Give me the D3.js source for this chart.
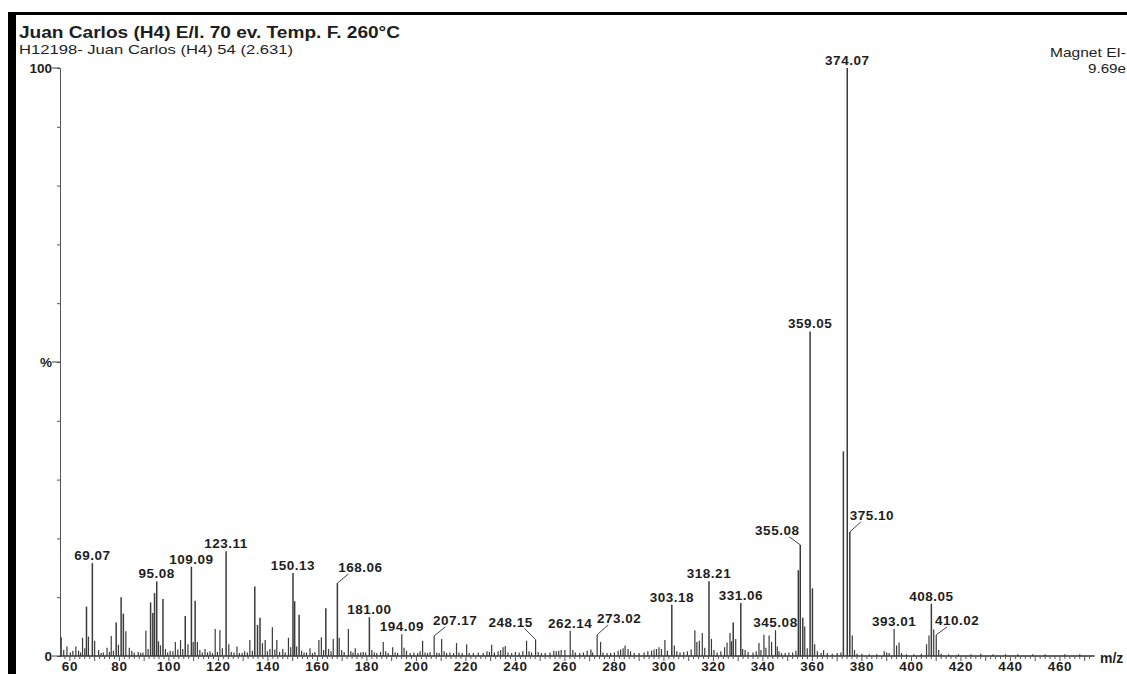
<!DOCTYPE html>
<html>
<head>
<meta charset="utf-8">
<script src="https://cdn.jsdelivr.net/npm/d3@7"></script>
<style>
  html, body { margin: 0; padding: 0; background: #ffffff; }
  svg { display: block; }
  text { font-family: "Liberation Sans", Arial, sans-serif; fill: #1e1e1e; }
</style>
</head>
<body>
<svg id="chart" width="1127" height="674"></svg>
<script>
// ---------- data ----------
const title = "Juan Carlos (H4) E/I. 70 ev. Temp. F. 260°C";
const subtitle = "H12198- Juan Carlos (H4) 54 (2.631)";
const instrument = ["Magnet EI-", "9.69e"];
const xTickLabels = [60, 80, 100, 120, 140, 160, 180, 200, 220, 240, 260, 280, 300, 320, 340, 360, 380, 400, 420, 440, 460];
const yTickLabels = [{v: 100, t: "100"}, {v: 50, t: "%"}, {v: 0, t: "0"}];

// m/z values and relative intensities (%)
const mz = [56.5,57.5,58.8,60.2,61.2,62.4,63.5,64.3,65.1,66.0,66.7,67.5,69.07,70.0,71.6,72.6,73.5,75.0,76.0,76.7,77.6,78.7,79.6,80.7,81.6,82.6,84.0,85.0,86.0,87.6,88.6,89.5,90.7,91.6,92.6,93.5,94.2,95.08,95.8,96.6,97.6,98.6,99.5,100.5,101.6,102.6,103.6,104.7,105.6,106.6,107.7,109.09,109.8,110.6,111.5,112.5,113.5,114.6,115.6,116.6,117.6,118.7,119.6,120.6,121.6,123.11,124.2,125.2,126.3,127.5,128.5,129.6,130.6,131.7,132.7,133.7,134.7,135.8,136.8,137.8,138.9,139.8,140.8,141.8,142.8,143.6,144.7,146.0,147.0,148.3,149.2,150.13,150.8,151.6,152.6,153.6,154.6,155.6,157.0,158.0,159.0,160.6,161.6,162.5,163.4,164.5,165.5,166.4,168.06,168.8,169.8,170.8,172.5,173.5,174.4,175.3,176.4,177.5,178.5,179.5,181.0,182.0,183.0,184.0,185.5,186.6,187.6,188.6,190.4,191.4,192.4,194.09,195.0,196.0,197.5,199.0,200.5,201.5,202.5,203.5,204.5,205.5,207.17,208.2,209.2,210.2,211.2,212.2,213.5,215.0,216.2,217.2,218.5,220.3,221.3,223.0,225.0,227.0,228.5,229.5,230.4,231.5,233.0,234.0,235.0,235.9,237.0,238.5,240.0,241.5,243.0,244.5,245.5,246.5,248.15,249.2,250.5,252.0,254.0,255.5,256.5,257.5,258.5,260.0,262.14,263.2,264.2,266.0,267.5,269.0,270.5,271.2,273.02,274.4,275.4,277.0,278.5,280.0,281.5,282.5,283.5,284.3,285.5,286.5,288.0,290.0,292.0,293.5,295.0,296.0,297.0,298.0,299.0,300.4,301.4,303.18,304.2,305.2,306.5,308.0,309.5,311.0,312.5,313.3,314.3,315.5,316.5,318.21,319.2,320.2,321.5,323.0,324.5,325.5,326.7,327.3,328.0,329.0,331.06,331.8,332.8,334.0,336.0,337.3,338.4,339.2,340.4,341.2,342.5,343.5,345.08,345.8,346.5,347.5,349.0,350.5,352.0,353.3,354.3,355.08,356.1,356.9,357.9,359.05,360.0,360.9,362.0,363.5,364.5,366.0,368.0,370.0,371.5,372.5,374.07,375.10,376.1,377.0,378.0,380.0,383.0,386.0,389.0,390.0,391.0,393.01,394.0,395.0,396.0,398.0,401.0,404.0,406.1,407.1,408.05,409.0,410.02,411.0,412.0,415,419,424,428,433,438,443,449,454,462,468];
const intensity = [3.2,1.0,1.6,0.6,0.9,1.6,0.9,0.6,3.1,1.3,8.4,3.3,15.8,2.6,1.0,0.5,0.6,1.4,0.7,3.4,0.9,5.7,1.9,10.0,7.2,4.2,1.4,0.9,0.6,0.7,0.5,0.6,4.3,1.2,9.1,7.3,10.7,12.7,2.5,1.8,9.7,1.2,0.6,0.9,0.8,2.4,1.1,2.7,1.2,6.8,2.0,15.2,2.4,9.4,2.4,1.0,0.6,1.2,0.6,0.8,0.5,4.6,0.7,4.4,1.3,17.8,2.0,0.7,0.6,1.6,0.5,0.5,0.8,0.6,2.7,0.9,11.8,5.3,6.5,2.2,2.7,0.8,1.2,4.9,1.1,2.7,0.7,1.2,0.6,3.1,1.5,14.1,9.3,1.6,7.0,0.9,0.6,0.6,1.3,0.5,0.7,2.7,3.2,1.0,8.1,1.2,0.8,2.9,12.4,3.1,1.0,0.7,4.6,0.8,0.6,1.3,0.5,0.6,0.7,0.6,6.6,1.0,0.6,0.5,0.7,2.4,0.8,0.5,1.5,0.6,0.5,3.7,1.4,0.9,0.5,0.6,0.5,0.8,2.6,0.6,0.5,0.7,3.4,0.6,0.5,2.9,0.8,0.5,0.6,0.5,2.2,0.6,0.5,2.0,0.5,0.5,0.6,0.5,0.8,0.7,1.9,0.6,0.8,1.0,1.5,1.7,0.6,0.5,0.7,0.6,0.8,2.6,0.8,0.6,2.8,0.7,0.5,0.5,0.6,0.9,0.8,0.9,1.0,1.0,4.3,1.0,0.6,0.5,0.6,0.9,1.1,0.6,3.6,2.4,0.6,0.5,0.5,0.6,0.9,1.1,1.3,1.8,1.2,0.8,0.5,0.5,0.6,0.8,0.9,1.1,1.2,1.5,1.2,2.7,0.9,8.7,1.8,0.8,0.6,0.7,0.8,1.1,4.4,2.4,2.6,3.9,1.4,12.7,2.9,1.0,0.6,0.8,1.5,2.3,3.9,2.5,5.7,2.9,9.0,1.2,1.0,0.7,0.6,0.8,2.2,1.0,3.6,1.4,3.5,2.4,4.4,1.6,0.8,0.5,0.5,0.6,0.6,0.9,14.6,18.9,6.5,5.0,1.3,55.2,11.5,2.0,0.8,0.5,1.0,0.5,0.4,0.5,0.6,34.8,100,21.1,3.5,1.0,0.4,0.4,0.3,0.3,0.8,0.6,0.5,4.6,1.8,2.3,0.5,0.3,0.3,0.4,2.0,3.5,8.9,4.5,3.6,1.0,0.4,0.3,0.3,0.3,0.4,0.3,0.3,0.3,0.3,0.3,0.3,0.3];

// labelled peaks
const peakLabels = [69.07, 95.08, 109.09, 123.11, 150.13, 168.06, 181.00, 194.09, 207.17, 248.15, 262.14, 273.02, 303.18, 318.21, 331.06, 345.08, 355.08, 359.05, 374.07, 375.10, 393.01, 408.05, 410.02];

// ---------- layout (not data) ----------
// labels drawn with a leader line: [dx, dy] of label baseline relative to peak top
const leaderOffsets = {
  "168.06": [23, -11], "207.17": [21, -11], "248.15": [-25, -13], "273.02": [22, -12],
  "355.08": [-23, -10], "375.10": [22, -12], "410.02": [21, -10]
};

const svg = d3.select("#chart");
const W = 1127, H = 674;

const x = d3.scaleLinear().domain([56, 474]).range([60, 1094.6]);
const y = d3.scaleLinear().domain([0, 100]).range([656, 68]);

// scan border
svg.append("rect").attr("x", 8).attr("y", 12).attr("width", 8).attr("height", H - 12).attr("fill", "#000");
svg.append("rect").attr("x", 8).attr("y", 12).attr("width", W - 8).attr("height", 3).attr("fill", "#000");

// titles
svg.append("text").attr("x", 19).attr("y", 38).attr("font-size", 16).attr("font-weight", "bold")
  .attr("textLength", 381).attr("lengthAdjust", "spacingAndGlyphs").text(title);
svg.append("text").attr("x", 19).attr("y", 54).attr("font-size", 13.5)
  .attr("textLength", 274).attr("lengthAdjust", "spacingAndGlyphs").text(subtitle);
svg.append("text").attr("x", 1050).attr("y", 57).attr("font-size", 13.5)
  .attr("textLength", 76).attr("lengthAdjust", "spacingAndGlyphs").text(instrument[0]);
svg.append("text").attr("x", 1088).attr("y", 73).attr("font-size", 13.5)
  .attr("textLength", 38).attr("lengthAdjust", "spacingAndGlyphs").text(instrument[1]);

// y axis
const yAxisG = svg.append("g").attr("transform", `translate(${x(56)},0)`);
yAxisG.call(d3.axisLeft(y).tickValues(d3.range(0, 101, 10)).tickSize(3).tickFormat(""));
yAxisG.selectAll(".tick text").remove();
yAxisG.select(".domain").attr("stroke", "#555").attr("stroke-width", 1);
yAxisG.selectAll(".tick line").attr("stroke", "#555");
yTickLabels.forEach(d => {
  yAxisG.append("line").attr("x1", -8).attr("x2", 0).attr("y1", y(d.v)).attr("y2", y(d.v)).attr("stroke", "#444");
  yAxisG.append("text").attr("x", -8).attr("y", y(d.v) + 4.5).attr("text-anchor", "end")
    .attr("font-size", 13.5).attr("font-weight", "bold").text(d.t);
});

// x axis
const xAxisG = svg.append("g").attr("transform", `translate(0,${y(0)})`);
xAxisG.append("line").attr("x1", x(56)).attr("x2", x(474)).attr("y1", 0).attr("y2", 0).attr("stroke", "#333").attr("stroke-width", 1.3);
xAxisG.selectAll("line.minor").data(d3.range(58, 474, 2)).join("line")
  .attr("x1", d => x(d)).attr("x2", d => x(d)).attr("y1", 0).attr("y2", d => d % 10 === 0 ? 5 : 3)
  .attr("stroke", "#555");
xAxisG.selectAll("text.tl").data(xTickLabels).join("text")
  .attr("x", d => x(d)).attr("y", 14.5).attr("text-anchor", "middle")
  .attr("font-size", 13.5).attr("font-weight", "bold").attr("letter-spacing", 0.6).text(d => d);
svg.append("text").attr("x", 1100).attr("y", 663).attr("font-size", 14).attr("font-weight", "bold").text("m/z");

// peaks
const peaks = mz.map((m, i) => ({m, v: intensity[i]}));
svg.append("g").selectAll("line").data(peaks).join("line")
  .attr("x1", d => x(d.m)).attr("x2", d => x(d.m))
  .attr("y1", y(0)).attr("y2", d => y(d.v))
  .attr("stroke", "#3a3a3a").attr("stroke-width", d => d.v > 5 ? 1.5 : 1.2);

// peak labels
const lab = svg.append("g");
peakLabels.forEach(m => {
  const i = mz.findIndex(v => Math.abs(v - m) < 0.005);
  if (i < 0) return;
  const px = x(m), py = y(intensity[i]);
  const key = m.toFixed(2);
  const off = leaderOffsets[key];
  let lx = px, ly = py - 3;
  if (off) {
    lx = px + off[0]; ly = py + off[1];
    const ex = px + Math.sign(off[0]) * 11, ey = ly + 2;
    lab.append("line").attr("x1", px).attr("y1", py).attr("x2", ex).attr("y2", ey)
      .attr("stroke", "#444").attr("stroke-width", 1);
  }
  lab.append("text").attr("x", lx).attr("y", ly).attr("text-anchor", "middle")
    .attr("font-size", 13.5).attr("font-weight", "bold").attr("letter-spacing", 0.5).text(key);
});
</script>
</body>
</html>
